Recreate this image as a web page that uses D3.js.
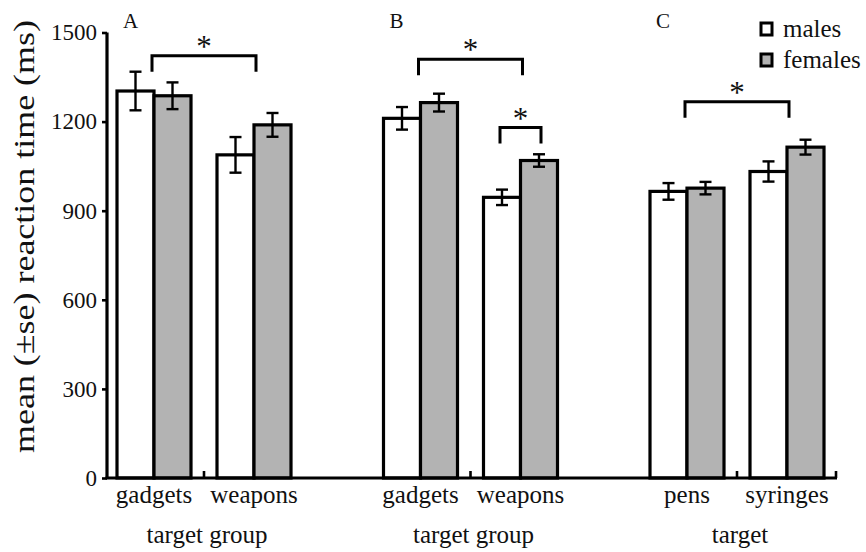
<!DOCTYPE html>
<html>
<head>
<meta charset="utf-8">
<script src="https://cdn.jsdelivr.net/npm/d3@7"></script>
<style>
  html, body { margin: 0; padding: 0; background: #fff; }
  svg, svg text { font-family: "Liberation Serif", "DejaVu Serif", serif !important; }
  svg text { fill: #111; }
</style>
</head>
<body>
<svg id="chart" width="866" height="552" font-family="Liberation Serif, serif"></svg>
<script>
// ---- data ----
const panels = ["A", "B", "C"];
const panelTitles = ["target group", "target group", "target"];
const categories = [["gadgets", "weapons"], ["gadgets", "weapons"], ["pens", "syringes"]];
const sexes = ["males", "females"];
const malesMean   = [[1303, 1088], [1211, 945], [965, 1032]];
const malesSE     = [[65, 60], [38, 26], [28, 34]];
const femalesMean = [[1287, 1189], [1264, 1069], [976, 1114]];
const femalesSE   = [[45, 40], [30, 21], [21, 25]];
const yTicks = [0, 300, 600, 900, 1200, 1500];
// significance brackets: [panel, from, to, level]; from/to = "cat" pair centre or "cat:sex" bar centre
const brackets = [
  ["A", "gadgets", "weapons", 1422],
  ["B", "gadgets", "weapons", 1410],
  ["B", "weapons:males", "weapons:females", 1180],
  ["C", "pens", "syringes", 1267]
];

// ---- layout ----
const FONT = "Liberation Serif, serif";
const svg = d3.select("#chart");
const xAxisStart = 107, xAxisEnd = 837;
const y = d3.scaleLinear().domain([0, 1500]).range([478, 32.5]);
const xPanel = d3.scalePoint().domain(panels).range([204, 737]);
const xCat = d3.scaleBand().domain([0, 1]).range([-100, 100]).paddingInner(0.26).paddingOuter(0.13);
const xSex = d3.scaleBand().domain(sexes).range([0, xCat.bandwidth()]);
const fill = d3.scaleOrdinal().domain(sexes).range(["#ffffff", "#b3b3b3"]);

const rows = [];
panels.forEach((p, pi) => {
  categories[pi].forEach((c, ci) => {
    rows.push({panel: p, cat: c, ci, sex: "males", mean: malesMean[pi][ci], se: malesSE[pi][ci]});
    rows.push({panel: p, cat: c, ci, sex: "females", mean: femalesMean[pi][ci], se: femalesSE[pi][ci]});
  });
});
const barX = d => xPanel(d.panel) + xCat(d.ci) + xSex(d.sex);
const pairCentre = (p, ci) => xPanel(p) + xCat(ci) + xCat.bandwidth() / 2;

// bars
svg.append("g").selectAll("rect").data(rows).join("rect")
  .attr("x", barX).attr("y", d => y(d.mean))
  .attr("width", xSex.bandwidth()).attr("height", d => y(0) - y(d.mean))
  .attr("fill", d => fill(d.sex)).attr("stroke", "#000").attr("stroke-width", 3.2);

// error bars
const eb = svg.append("g").attr("stroke", "#000").attr("stroke-width", 2.4);
rows.forEach(d => {
  const cx = barX(d) + xSex.bandwidth() / 2;
  eb.append("line").attr("x1", cx).attr("x2", cx).attr("y1", y(d.mean + d.se)).attr("y2", y(d.mean - d.se));
  eb.append("line").attr("x1", cx - 6).attr("x2", cx + 6).attr("y1", y(d.mean + d.se)).attr("y2", y(d.mean + d.se));
  eb.append("line").attr("x1", cx - 6).attr("x2", cx + 6).attr("y1", y(d.mean - d.se)).attr("y2", y(d.mean - d.se));
});

// y axis
const yAxis = svg.append("g").attr("transform", `translate(${xAxisStart},0)`)
  .call(d3.axisLeft(y).tickValues(yTicks).tickSize(5).tickPadding(5).tickFormat(d3.format("d")));
yAxis.attr("font-family", FONT).attr("font-size", 23);
yAxis.select(".domain").attr("stroke-width", 3.2).attr("d", `M0,${y(1500)}V${y(0)}`);
yAxis.selectAll(".tick line").attr("stroke-width", 2.6);
yAxis.selectAll(".tick text").attr("font-size", 23).attr("font-family", FONT).attr("fill", "#111");

// x axis line with small upward ticks
const xg = svg.append("g");
xg.append("line").attr("x1", xAxisStart - 1.5).attr("x2", xAxisEnd).attr("y1", y(0)).attr("y2", y(0))
  .attr("stroke", "#000").attr("stroke-width", 3.2);
const xTickPos = panels.map(p => xPanel(p)).concat([xAxisEnd - 1]);
xg.selectAll("line.tk").data(xTickPos).join("line").attr("class", "tk")
  .attr("x1", d => d).attr("x2", d => d).attr("y1", y(0)).attr("y2", y(0) - 7)
  .attr("stroke", "#000").attr("stroke-width", 2.6);

// category labels
panels.forEach((p, pi) => {
  categories[pi].forEach((c, ci) => {
    svg.append("text").attr("x", pairCentre(p, ci)).attr("y", 503).attr("font-family", FONT)
      .attr("text-anchor", "middle").attr("font-size", 25).text(c);
  });
  svg.append("text").attr("x", xPanel(p) + 3).attr("y", 543).attr("font-family", FONT)
    .attr("text-anchor", "middle").attr("font-size", 25).text(panelTitles[pi]);
  svg.append("text").attr("x", xPanel(p) - 81).attr("y", 28).attr("font-family", FONT)
    .attr("font-size", 21).text(p);
});

// brackets + stars
const bg = svg.append("g");
brackets.forEach(([p, a, b, lvl]) => {
  const pos = s => {
    const [cat, sex] = s.split(":");
    const ci = categories[panels.indexOf(p)].indexOf(cat);
    if (sex) return xPanel(p) + xCat(ci) + xSex(sex) + xSex.bandwidth() / 2;
    return pairCentre(p, ci);
  };
  const x1 = pos(a) - 2, x2 = pos(b) + 2, yy = y(lvl);
  bg.append("path").attr("d", `M${x1},${yy + 16}V${yy}H${x2}V${yy + 16}`)
    .attr("fill", "none").attr("stroke", "#000").attr("stroke-width", 3);
  bg.append("text").attr("x", (x1 + x2) / 2).attr("y", yy + 1).attr("font-family", FONT)
    .attr("text-anchor", "middle").attr("font-size", 31).text("*");
});

// legend
const lg = svg.append("g");
sexes.forEach((s, i) => {
  lg.append("rect").attr("x", 761).attr("y", 23 + i * 31).attr("width", 11).attr("height", 12)
    .attr("fill", fill(s)).attr("stroke", "#000").attr("stroke-width", 3);
  lg.append("text").attr("x", 783).attr("y", 37 + i * 31).attr("font-family", FONT)
    .attr("font-size", 25).text(s);
});

// y axis title
svg.append("text")
  .attr("transform", `translate(34,236.5) rotate(-90)`).attr("font-family", FONT)
  .attr("text-anchor", "middle").attr("font-size", 29)
  .attr("textLength", 433).attr("lengthAdjust", "spacingAndGlyphs")
  .text("mean (±se) reaction time (ms)");
</script>
</body>
</html>
